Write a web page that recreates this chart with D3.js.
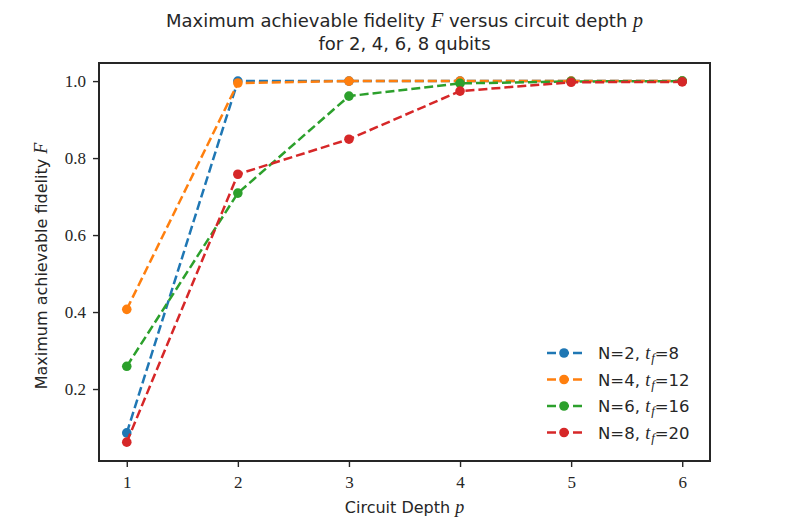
<!DOCTYPE html>
<html><head><meta charset="utf-8">
<script src="https://cdn.jsdelivr.net/npm/d3@7/dist/d3.min.js"></script>
<style>body{margin:0;background:#fff}</style>
</head><body>
<svg id="c" width="789" height="526"></svg>
<script>
const depths = [1, 2, 3, 4, 5, 6];
const seriesNames = ["N=2", "N=4", "N=6", "N=8"];
const seriesTf = ["8", "12", "16", "20"];
const colors = ["#1f77b4", "#ff7f0e", "#2ca02c", "#d62728"];
const fidN2 = [0.086, 1.0, 1.0, 1.0, 1.0, 1.0];
const fidN4 = [0.407, 0.995, 1.0, 1.0, 1.0, 1.0];
const fidN6 = [0.259, 0.709, 0.961, 0.994, 0.999, 1.0];
const fidN8 = [0.062, 0.758, 0.849, 0.974, 0.997, 0.998];
const xTicks = [1, 2, 3, 4, 5, 6];
const yTicks = [0.2, 0.4, 0.6, 0.8, 1.0];
const allSeries = [fidN2, fidN4, fidN6, fidN8];

const svg = d3.select("#c");
const L = 99, R = 710, T = 63, B = 461;
const x = d3.scaleLinear().domain([0.75, 6.25]).range([L, R]);
const y = d3.scaleLinear().domain([0.013, 1.047]).range([B, T]);
const ink = "#262626";
const serif = "'Liberation Serif', 'DejaVu Serif', serif";
const sans = "'DejaVu Sans', sans-serif";

// axes
const xa = svg.append("g").attr("transform", `translate(0,${B})`)
  .call(d3.axisBottom(x).tickValues(xTicks).tickSize(6).tickPadding(9).tickFormat(d3.format("d")));
const ya = svg.append("g").attr("transform", `translate(${L},0)`)
  .call(d3.axisLeft(y).tickValues(yTicks).tickSize(6).tickPadding(7).tickFormat(d3.format(".1f")));
[xa, ya].forEach(a => {
  a.select(".domain").remove();
  a.selectAll(".tick line").attr("stroke", ink).attr("stroke-width", 1.4);
  a.selectAll(".tick text").attr("fill", ink).style("font-family", serif).style("font-size", "17px");
});

// data lines
allSeries.forEach((s, i) => {
  const pts = depths.map((d, j) => [d, s[j]]);
  svg.append("path").datum(pts)
    .attr("d", d3.line().x(d => x(d[0])).y(d => y(d[1])))
    .attr("fill", "none").attr("stroke", colors[i]).attr("stroke-width", 2.5)
    .attr("stroke-dasharray", "9,4");
  svg.selectAll(null).data(pts).enter().append("circle")
    .attr("cx", d => x(d[0])).attr("cy", d => y(d[1])).attr("r", 4.8)
    .attr("fill", colors[i]);
});

// frame
svg.append("rect").attr("x", L).attr("y", T).attr("width", R - L).attr("height", B - T)
  .attr("fill", "none").attr("stroke", ink).attr("stroke-width", 2);

// title
const title = svg.append("text").attr("text-anchor", "middle").attr("fill", ink)
  .style("font-family", sans).style("font-size", "18px");
const t1 = title.append("tspan").attr("x", (L + R) / 2).attr("y", 27);
t1.append("tspan").text("Maximum achievable fidelity ");
t1.append("tspan").text("F").style("font-family", serif).style("font-style", "italic").style("font-size", "20px");
t1.append("tspan").text(" versus circuit depth ");
t1.append("tspan").text("p").style("font-family", serif).style("font-style", "italic").style("font-size", "20px");
title.append("tspan").attr("x", (L + R) / 2).attr("y", 50).text("for 2, 4, 6, 8 qubits");

// x label
const xl = svg.append("text").attr("x", (L + R) / 2).attr("y", 513).attr("text-anchor", "middle")
  .attr("fill", ink).style("font-family", sans).style("font-size", "16px");
xl.append("tspan").text("Circuit Depth ");
xl.append("tspan").text("p").style("font-family", serif).style("font-style", "italic").style("font-size", "18px");

// y label
const yl = svg.append("text").attr("transform", `translate(47,266) rotate(-90)`)
  .attr("text-anchor", "middle").attr("fill", ink).style("font-family", sans).style("font-size", "16px");
yl.append("tspan").text("Maximum achievable fidelity ");
yl.append("tspan").text("F").style("font-family", serif).style("font-style", "italic").style("font-size", "18px");

// legend
const lg = svg.append("g");
seriesNames.forEach((n, i) => {
  const yy = 353 + i * 26.5;
  lg.append("line").attr("x1", 547).attr("x2", 583).attr("y1", yy).attr("y2", yy)
    .attr("stroke", colors[i]).attr("stroke-width", 2.5).attr("stroke-dasharray", "9,4");
  lg.append("circle").attr("cx", 564).attr("cy", yy).attr("r", 4.8).attr("fill", colors[i]);
  const tx = lg.append("text").attr("x", 598).attr("y", yy + 6).attr("fill", ink)
    .style("font-family", sans).style("font-size", "16.5px");
  tx.append("tspan").text(n + ", ");
  tx.append("tspan").text("t").style("font-family", serif).style("font-style", "italic").style("font-size", "18px");
  tx.append("tspan").text("f").attr("dy", 3).attr("dx", 1).style("font-family", serif).style("font-style", "italic").style("font-size", "13px");
  tx.append("tspan").text("=" + seriesTf[i]).attr("dy", -3);
});
</script>
</body></html>
